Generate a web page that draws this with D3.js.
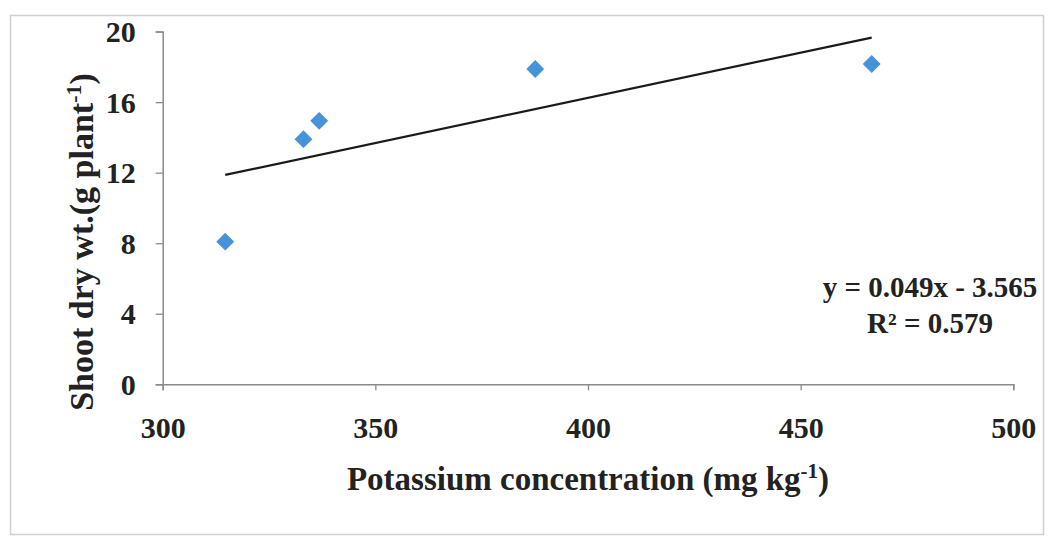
<!DOCTYPE html>
<html>
<head>
<meta charset="utf-8">
<script src="https://cdn.jsdelivr.net/npm/d3@7"></script>
<style>
  body { margin: 0; background: #fff; }
  svg text { font-family: "Liberation Serif", "Times New Roman", serif; font-weight: bold; fill: #222; }
</style>
</head>
<body>
<svg id="chart" width="1050" height="538"></svg>
<script>
// potassium (mg/kg) vs shoot dry weight (g/plant)
const potassium = [314.7, 333.1, 336.8, 387.6, 466.7];
const shootWt = [8.09, 13.9, 14.94, 17.88, 18.16];
const xTicks = [300, 350, 400, 450, 500];
const yTicks = [0, 4, 8, 12, 16, 20];
const eqLines = ["y = 0.049x - 3.565", "R² = 0.579"];

const svg = d3.select("#chart");
const margin = { left: 162.7, right: 1013.3, top: 31.6, bottom: 384.3 };

const x = d3.scaleLinear().domain([300, 500]).range([margin.left, margin.right]);
const y = d3.scaleLinear().domain([0, 20]).range([margin.bottom, margin.top]);

// outer frame
svg.append("rect")
    .attr("x", 10.5).attr("y", 15.5)
    .attr("width", 1033).attr("height", 519)
    .attr("fill", "none")
    .attr("stroke", "#cfcfcf")
    .attr("stroke-width", 1.5);

// axes
const xAxis = svg.append("g")
    .attr("transform", `translate(0,${y(0)})`)
    .call(d3.axisBottom(x).tickValues(xTicks).tickSize(6).tickPadding(26).tickFormat(d3.format("d")));

const yAxis = svg.append("g")
    .attr("transform", `translate(${x(300)},0)`)
    .call(d3.axisLeft(y).tickValues(yTicks).tickSize(7).tickPadding(20).tickFormat(d3.format("d")));

[xAxis, yAxis].forEach(g => {
    g.select(".domain").attr("stroke", "#8a8a8a").attr("stroke-width", 1.5);
    g.selectAll(".tick line").attr("stroke", "#8a8a8a").attr("stroke-width", 1.3);
    g.selectAll(".tick text")
        .attr("font-size", 30)
        .style("font-family", "'Liberation Serif', serif")
        .style("font-weight", "bold")
        .attr("fill", "#222");
});
yAxis.selectAll(".tick text").attr("dy", "0.34em");

// trend line: least squares fit over the points
const mx = d3.mean(potassium), my = d3.mean(shootWt);
const sxy = d3.sum(potassium, (v, i) => (v - mx) * (shootWt[i] - my));
const sxx = d3.sum(potassium, v => (v - mx) ** 2);
const slope = sxy / sxx;
const icpt = my - slope * mx;
const xExt = d3.extent(potassium);

svg.append("line")
    .attr("x1", x(xExt[0])).attr("y1", y(slope * xExt[0] + icpt))
    .attr("x2", x(xExt[1])).attr("y2", y(slope * xExt[1] + icpt))
    .attr("stroke", "#1a1a1a")
    .attr("stroke-width", 2.2);

// points
const pts = potassium.map((v, i) => ({ k: v, w: shootWt[i] }));
svg.append("g").selectAll("path")
    .data(pts)
    .enter().append("path")
    .attr("transform", d => `translate(${x(d.k)},${y(d.w)}) rotate(45)`)
    .attr("d", d3.symbol().type(d3.symbolSquare).size(160))
    .attr("fill", "#4593d9");

// equation label
svg.append("g").selectAll("text")
    .data(eqLines)
    .enter().append("text")
    .attr("x", 930)
    .attr("y", (d, i) => 297 + i * 36)
    .attr("text-anchor", "middle")
    .attr("font-size", 29)
    .text(d => d);

// axis titles
const xt = svg.append("text")
    .attr("x", 588).attr("y", 490)
    .attr("text-anchor", "middle")
    .attr("font-size", 33);
xt.append("tspan").text("Potassium concentration (mg kg");
xt.append("tspan").attr("font-size", 21).attr("dy", -12).text("-1");
xt.append("tspan").attr("dy", 12).text(")");

const yt = svg.append("text")
    .attr("transform", "translate(93,242) rotate(-90)")
    .attr("text-anchor", "middle")
    .attr("font-size", 34);
yt.append("tspan").text("Shoot dry wt.(g plant");
yt.append("tspan").attr("font-size", 22).attr("dy", -12).text("-1");
yt.append("tspan").attr("dy", 12).text(")");
</script>
</body>
</html>
